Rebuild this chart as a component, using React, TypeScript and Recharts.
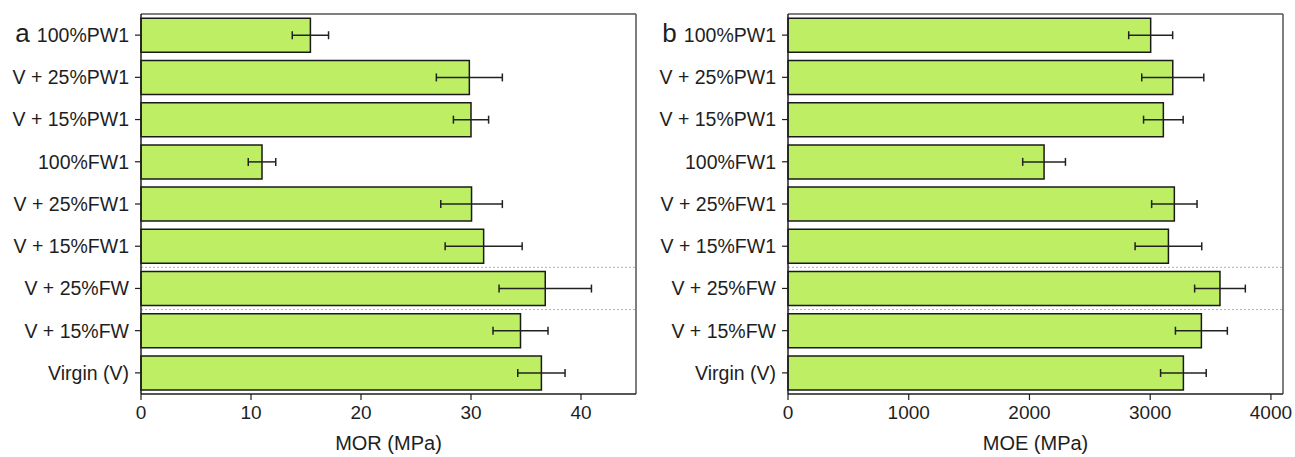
import React from 'react';
import { BarChart, Bar, XAxis, YAxis, ErrorBar, ReferenceLine } from 'recharts';

const categories = ['100%PW1', 'V + 25%PW1', 'V + 15%PW1', '100%FW1', 'V + 25%FW1', 'V + 15%FW1', 'V + 25%FW', 'V + 15%FW', 'Virgin (V)'];
const morValues = [15.4, 29.85, 30.0, 11.0, 30.05, 31.15, 36.75, 34.5, 36.4];
const morErrors = [1.65, 3.0, 1.6, 1.25, 2.8, 3.5, 4.2, 2.5, 2.15];
const moeValues = [3004, 3187, 3109, 2121, 3200, 3151, 3578, 3424, 3275];
const moeErrors = [182, 257, 164, 177, 188, 276, 210, 215, 189];
const morTicks = [0, 10, 20, 30, 40];
const moeTicks = [0, 1000, 2000, 3000, 4000];
const morDomainMax = 45;
const moeDomainMax = 4100;
const panelLetters = ['a', 'b'];
const axisTitles = ['MOR (MPa)', 'MOE (MPa)'];
const separatorCategories = ['V + 25%FW', 'V + 15%FW'];

const FONT = '"Liberation Sans", Arial, sans-serif';
const TEXT = '#1e1e1e';
const BAR_FILL = '#bdee64';

const CatTick = (props: any) => {
  const { x, y, payload, index, letter } = props;
  return (
    <text x={x} y={y} dy="0.355em" textAnchor="end" fontSize={19.5} fill={TEXT} fontFamily={FONT}>
      {index === 0 && <tspan fontSize={26}>{letter} </tspan>}
      {payload.value}
    </text>
  );
};

type PanelProps = {
  values: number[];
  errors: number[];
  ticks: number[];
  domainMax: number;
  letter: string;
  title: string;
  width: number;
  left: number;
};

const Panel = ({ values, errors, ticks, domainMax, letter, title, width, left }: PanelProps) => {
  const data = categories.map((name, i) => ({ name, value: values[i], err: errors[i] }));
  return (
    <div style={{ position: 'absolute', left, top: 0 }}>
      <BarChart
        width={width}
        height={457}
        data={data}
        layout="vertical"
        margin={{ top: 14, right: width - 636, bottom: 0, left: 0 }}
        barCategoryGap="10%"
      >
        <XAxis
          type="number"
          domain={[0, domainMax]}
          ticks={ticks}
          interval={0}
          height={63}
          tickSize={6}
          tickMargin={6}
          axisLine={{ stroke: TEXT, strokeWidth: 1.5 }}
          tickLine={{ stroke: TEXT, strokeWidth: 1.2 }}
          tick={{ fontSize: 19, fill: TEXT, fontFamily: FONT }}
          label={{ value: title, position: 'insideBottom', offset: 7, fontSize: 20, fill: TEXT, fontFamily: FONT }}
        />
        <YAxis
          type="category"
          dataKey="name"
          width={141}
          interval={0}
          tickSize={6}
          tickMargin={6}
          axisLine={{ stroke: TEXT, strokeWidth: 1.5 }}
          tickLine={{ stroke: TEXT, strokeWidth: 1.2 }}
          tick={<CatTick letter={letter} />}
        />
        {separatorCategories.map((c) => (
          <ReferenceLine key={c} y={c} position="start" stroke="#b0b0b0" strokeDasharray="2 2" strokeWidth={1} />
        ))}
        <ReferenceLine y={categories[0]} position="start" stroke="#555" strokeWidth={1.5} />
        <ReferenceLine x={domainMax} stroke="#555" strokeWidth={1.5} />
        <Bar dataKey="value" fill={BAR_FILL} stroke="#1a1a1a" strokeWidth={1.5} isAnimationActive={false}>
          <ErrorBar dataKey="err" direction="x" width={4} stroke="#222" strokeWidth={1.5} />
        </Bar>
      </BarChart>
    </div>
  );
};

export default function App() {
  return (
    <div style={{ position: 'absolute', left: 0, top: 0, width: 1295, height: 457, background: '#fff', fontFamily: FONT }}>
      <Panel values={morValues} errors={morErrors} ticks={morTicks} domainMax={morDomainMax} letter={panelLetters[0]} title={axisTitles[0]} width={647} left={0} />
      <Panel values={moeValues} errors={moeErrors} ticks={moeTicks} domainMax={moeDomainMax} letter={panelLetters[1]} title={axisTitles[1]} width={648} left={647} />
    </div>
  );
}
